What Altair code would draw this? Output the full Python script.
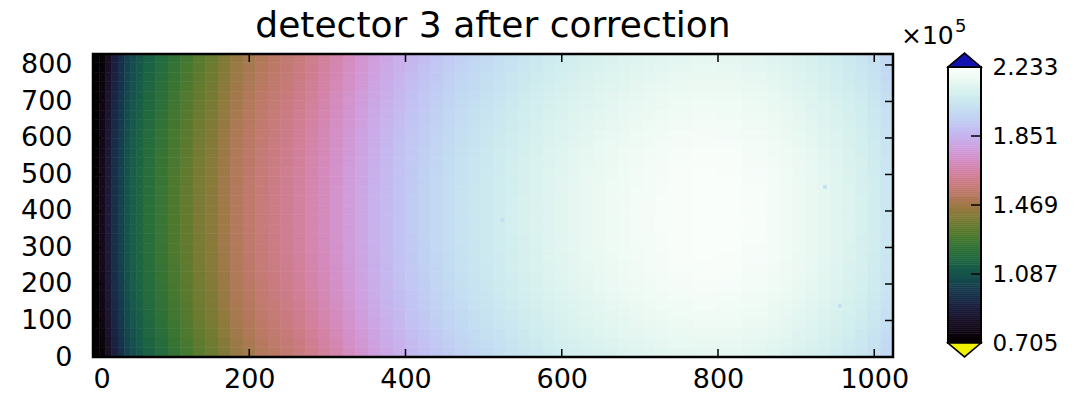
import altair as alt
import numpy as np
import pandas as pd

# ---------------- data ----------------
title_text = "detector 3 after correction"

# column bin edges (detector columns) and values (x 1e5) along the centre rows
col_edges = [0, 8, 16, 24, 32, 40, 48, 56, 64, 80, 96, 112, 128, 144, 160, 176, 192,
             208, 224, 240, 256, 272, 288, 304, 320, 336, 352, 368, 384, 400, 416, 432,
             448, 464, 480, 496, 512, 528, 544, 560, 576, 592, 608, 624, 640, 656, 672,
             688, 704, 720, 736, 768, 800, 832, 864, 880, 896, 912, 928, 944, 960, 976,
             992, 1008, 1024]
col_values = [0.72, 0.797, 0.888, 0.965, 1.026, 1.087, 1.133, 1.163, 1.209, 1.255, 1.301,
              1.347, 1.393, 1.423, 1.469, 1.515, 1.546, 1.576, 1.599, 1.620, 1.645, 1.675,
              1.705, 1.737, 1.775, 1.810, 1.845, 1.875, 1.905, 1.930, 1.955, 1.978, 2.000,
              2.020, 2.038, 2.054, 2.070, 2.085, 2.100, 2.114, 2.128, 2.140, 2.151, 2.161,
              2.170, 2.178, 2.186, 2.193, 2.199, 2.205, 2.212, 2.217, 2.215, 2.206, 2.196,
              2.186, 2.175, 2.163, 2.150, 2.135, 2.118, 2.100, 2.075, 2.045]

# row bin edges (detector rows) and the row-wise change (x 1e5) relative to the centre rows
row_edges = [0, 26, 52, 78, 104, 130, 156, 182, 208, 234, 260, 286, 312, 338, 364, 390,
             416, 442, 468, 494, 520, 546, 572, 598, 624, 650, 676, 702, 728, 754, 780,
             806, 830]
row_offsets = [-0.065, -0.055, -0.045, -0.037, -0.030, -0.024, -0.018, -0.013, -0.009,
               -0.006, -0.004, -0.002, -0.001, 0.0, 0.0, 0.0, 0.0, -0.001, -0.002, -0.004,
               -0.006, -0.009, -0.013, -0.017, -0.022, -0.027, -0.033, -0.039, -0.046,
               -0.053, -0.060, -0.067]

# isolated hot pixels (x, y, value x 1e5)
spot_x = [524, 937, 956]
spot_y = [375, 466, 140]
spot_v = [2.00, 2.00, 2.00]

x_ticks = [0, 200, 400, 600, 800, 1000]
y_ticks = [0, 100, 200, 300, 400, 500, 600, 700, 800]
cbar_ticks = [0.705, 1.087, 1.469, 1.851, 2.233]  # x 1e5
vmin, vmax = 0.705e5, 2.233e5
x_max, y_max = 1024, 830

# ---------------- tables ----------------
rows = []
for j in range(len(row_offsets)):
    for i in range(len(col_values)):
        rows.append({"x0": col_edges[i], "x1": col_edges[i + 1],
                     "y0": row_edges[j], "y1": row_edges[j + 1],
                     "v": (col_values[i] + row_offsets[j]) * 1e5})
for sx, sy, sv in zip(spot_x, spot_y, spot_v):
    rows.append({"x0": sx - 2, "x1": sx + 2, "y0": sy - 4, "y1": sy + 4, "v": sv * 1e5})
heat_df = pd.DataFrame(rows)


# matplotlib "cubehelix" colormap
def cubehelix(t, gamma=1.0, s=0.5, r=-1.5, h=1.0):
    xg = t ** gamma
    a = h * xg * (1 - xg) / 2
    phi = 2 * np.pi * (s / 3 + r * t)
    R = xg + a * (-0.14861 * np.cos(phi) + 1.78277 * np.sin(phi))
    G = xg + a * (-0.29227 * np.cos(phi) - 0.90649 * np.sin(phi))
    B = xg + a * (1.97294 * np.cos(phi))
    rgb = np.clip(np.stack([R, G, B], -1), 0, 1)
    return ["#%02x%02x%02x" % tuple(int(round(c * 255)) for c in px) for px in rgb]


n_stops = 64
stops_t = np.linspace(0, 1, n_stops)
color_range = cubehelix(stops_t)
color_domain = list(vmin + stops_t * (vmax - vmin))
cscale = alt.Scale(domain=color_domain, range=color_range, clamp=True)

# colour bar gradient cells
n_cb = 140
cb_edges = np.linspace(vmin, vmax, n_cb + 1)
cb_df = pd.DataFrame({"lo": cb_edges[:-1], "hi": cb_edges[1:],
                      "mid": (cb_edges[:-1] + cb_edges[1:]) / 2})
cbt_df = pd.DataFrame({"v": [t * 1e5 for t in cbar_ticks]})
one_df = pd.DataFrame({"k": [0]})
xt_df = pd.DataFrame({"t": x_ticks})
yt_df = pd.DataFrame({"t": y_ticks})

# ---------------- layout ----------------
W, H = 800, 303
FONT = "DejaVu Sans"
TICK_FS = 27
cb_x0, cb_x1 = 855, 888           # colour bar, pixels from plot origin
cb_top, cb_bot = 13, 14           # colour bar inset from plot top / bottom
span = (vmax - vmin) / (H - cb_top - cb_bot)
cb_scale = alt.Scale(domain=[vmin - cb_bot * span, vmax + cb_top * span], nice=False, zero=False)

xs = alt.Scale(domain=[0, x_max], nice=False, zero=False)
ys = alt.Scale(domain=[0, y_max], nice=False, zero=False)

x_axis = alt.Axis(values=x_ticks, title=None, grid=False, domain=False, ticks=False,
                  format="d", labelFontSize=TICK_FS, labelPadding=9, labelColor="black",
                  labelFont=FONT, orient="bottom")
y_axis = alt.Axis(values=y_ticks, title=None, grid=False, domain=False, ticks=False,
                  format="d", labelFontSize=TICK_FS, labelPadding=21, labelColor="black",
                  labelFont=FONT, orient="left")
cb_axis = alt.Axis(orient="right", offset=cb_x1 - W, values=[t * 1e5 for t in cbar_ticks],
                   labelExpr="format(datum.value / 100000, '.3f')", title=None, grid=False,
                   domain=False, ticks=False, labelFontSize=23, labelPadding=11,
                   labelColor="black", labelFont=FONT)

heat = alt.Chart(heat_df).mark_rect(strokeWidth=0.6).encode(
    x=alt.X("x0:Q", scale=xs, axis=x_axis),
    x2="x1:Q",
    y=alt.Y("y0:Q", scale=ys, axis=y_axis),
    y2="y1:Q",
    color=alt.Color("v:Q", scale=cscale, legend=None),
    stroke=alt.Stroke("v:Q", scale=cscale, legend=None),
)

tick_len = 8
xt_bottom = alt.Chart(xt_df).mark_rule(color="black", strokeWidth=1.5).encode(
    x=alt.X("t:Q", scale=xs, axis=x_axis), y=alt.value(H), y2=alt.value(H - tick_len))
xt_top = alt.Chart(xt_df).mark_rule(color="black", strokeWidth=1.5).encode(
    x=alt.X("t:Q", scale=xs, axis=x_axis), y=alt.value(0), y2=alt.value(tick_len))
yt_left = alt.Chart(yt_df).mark_rule(color="black", strokeWidth=1.5).encode(
    y=alt.Y("t:Q", scale=ys, axis=y_axis), x=alt.value(0), x2=alt.value(tick_len))
yt_right = alt.Chart(yt_df).mark_rule(color="black", strokeWidth=1.5).encode(
    y=alt.Y("t:Q", scale=ys, axis=y_axis), x=alt.value(W), x2=alt.value(W - tick_len))
frame = alt.Chart(one_df).mark_rect(fillOpacity=0, stroke="black", strokeWidth=2.5).encode(
    x=alt.value(0), x2=alt.value(W), y=alt.value(0), y2=alt.value(H))
title = alt.Chart(one_df).mark_text(text=title_text, fontSize=36, font=FONT, align="center",
                                    baseline="alphabetic", color="black").encode(
    x=alt.value(W / 2), y=alt.value(-17))

heat_layer = alt.layer(heat, xt_bottom, xt_top, yt_left, yt_right, frame, title)

cb_rects = alt.Chart(cb_df).mark_rect(strokeWidth=0.6).encode(
    x=alt.value(cb_x0), x2=alt.value(cb_x1),
    y=alt.Y("lo:Q", scale=cb_scale, axis=cb_axis), y2="hi:Q",
    color=alt.Color("mid:Q", scale=cscale, legend=None),
    stroke=alt.Stroke("mid:Q", scale=cscale, legend=None),
)
cb_ticks = alt.Chart(cbt_df).mark_rule(color="black", strokeWidth=1.5).encode(
    y=alt.Y("v:Q", scale=cb_scale, axis=cb_axis), x=alt.value(cb_x1 - 10), x2=alt.value(cb_x1))
cb_frame = alt.Chart(one_df).mark_rect(fillOpacity=0, stroke="black", strokeWidth=2).encode(
    x=alt.value(cb_x0), x2=alt.value(cb_x1),
    y=alt.value(cb_top), y2=alt.value(H - cb_bot))

half = (cb_x1 - cb_x0) / 2
tri_size = (cb_x1 - cb_x0) ** 2
up_path = "M-1,0.42L0,-0.42L1,0.42Z"
down_path = "M-1,-0.42L0,0.42L1,-0.42Z"
tri_up = alt.Chart(one_df).mark_point(
    shape=up_path, size=tri_size, filled=True, fill="#1212b0", stroke="black",
    strokeWidth=1.5, opacity=1).encode(
    x=alt.value(cb_x0 + half), y=alt.value(cb_top - 7))
tri_down = alt.Chart(one_df).mark_point(
    shape=down_path, size=tri_size, filled=True, fill="#f2f200", stroke="black",
    strokeWidth=1.5, opacity=1).encode(
    x=alt.value(cb_x0 + half), y=alt.value(H - cb_bot + 7))

mult = alt.Chart(one_df).mark_text(text="\u00d710", fontSize=25, font=FONT, align="left",
                                   baseline="alphabetic", color="black").encode(
    x=alt.value(808), y=alt.value(-10))
expo = alt.Chart(one_df).mark_text(text="5", fontSize=18, font=FONT, align="left",
                                   baseline="alphabetic", color="black").encode(
    x=alt.value(862), y=alt.value(-22))

cb_layer = alt.layer(cb_rects, cb_ticks, cb_frame, tri_up, tri_down, mult, expo)

chart = alt.layer(heat_layer, cb_layer).resolve_scale(y="independent").properties(
    width=W, height=H,
    autosize=alt.AutoSizeParams(type="none"),
    padding={"left": 85, "top": 46, "right": 183, "bottom": 32},
).configure_view(stroke=None).configure_axis(
    labelFontSize=TICK_FS, labelFont=FONT, labelColor="black"
).configure(font=FONT, background="white")

chart.save("out.html", embed_options={"renderer": "svg", "actions": False})
